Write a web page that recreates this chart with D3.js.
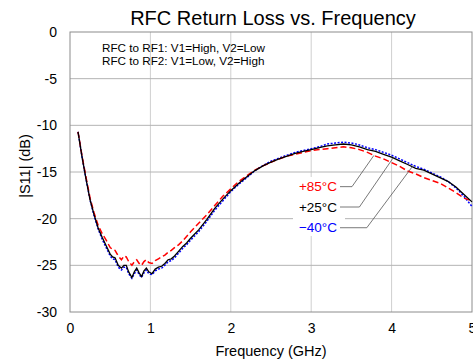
<!DOCTYPE html>
<meta charset="utf-8">
<script src="https://d3js.org/d3.v7.min.js"></script>
<style>
  body { margin: 0; background: #fff; }
  text { font-family: "Liberation Sans", Arial, sans-serif; }
</style>
<div id="my_dataviz"></div>
<script>
  // frequency points (GHz)
  var freq = [0.10, 0.15, 0.20, 0.25, 0.30, 0.35, 0.40, 0.45, 0.50, 0.53, 0.56, 0.60, 0.64, 0.67, 0.70, 0.73,
    0.77, 0.80, 0.83, 0.86, 0.89, 0.92, 0.95, 0.98, 1.02, 1.06, 1.10, 1.14, 1.18, 1.22, 1.26, 1.30, 1.35, 1.40,
    1.45, 1.50, 1.60, 1.70, 1.80, 1.90, 2.00, 2.10, 2.20, 2.30, 2.40, 2.50, 2.60, 2.70, 2.80, 2.90, 3.00, 3.10,
    3.20, 3.30, 3.40, 3.50, 3.60, 3.70, 3.80, 3.90, 4.00, 4.10, 4.20, 4.30, 4.40, 4.50, 4.60, 4.70, 4.80, 4.90, 5.00];

  // |S11| in dB for each temperature
  var s11_25 = [-10.7, -13.4, -15.8, -18.0, -19.6, -21.0, -22.0, -22.9, -23.8, -24.1, -24.2, -25.0, -25.3, -25.0, -25.0, -25.7,
    -26.3, -25.7, -25.3, -25.8, -26.2, -25.6, -25.3, -25.7, -25.9, -25.4, -25.2, -25.1, -24.8, -24.4, -24.3, -24.0, -23.5, -23.0,
    -22.6, -22.1, -21.2, -20.1, -18.9, -17.9, -17.0, -16.2, -15.5, -14.85, -14.35, -13.95, -13.6, -13.3, -13.0, -12.8, -12.6, -12.4,
    -12.2, -12.1, -12.0, -12.1, -12.3, -12.6, -12.8, -13.1, -13.4, -13.8, -14.2, -14.6, -14.8, -15.2, -15.6, -16.0, -16.6, -17.4, -18.2];

  var s11_85 = [-10.7, -13.3, -15.6, -17.8, -19.4, -20.7, -21.6, -22.3, -23.1, -23.3, -23.4, -24.0, -24.4, -24.0, -24.1, -24.6,
    -25.0, -24.6, -24.4, -24.8, -25.0, -24.6, -24.4, -24.7, -24.8, -24.5, -24.3, -24.1, -23.9, -23.6, -23.4, -23.1, -22.8, -22.4,
    -21.9, -21.4, -20.5, -19.6, -18.6, -17.6, -16.8, -16.0, -15.4, -14.8, -14.35, -13.95, -13.6, -13.3, -13.1, -12.9, -12.7, -12.6,
    -12.5, -12.4, -12.3, -12.4, -12.6, -12.9, -13.3, -13.6, -14.0, -14.4, -14.9, -15.2, -15.6, -15.9, -16.2, -16.7, -17.2, -17.8, -18.1];

  var s11_m40 = [-10.7, -13.4, -15.8, -18.0, -19.7, -21.1, -22.2, -23.1, -24.0, -24.3, -24.4, -25.2, -25.5, -25.2, -25.2, -25.9,
    -26.4, -25.9, -25.5, -26.0, -26.3, -25.8, -25.5, -25.9, -26.0, -25.6, -25.4, -25.3, -25.0, -24.6, -24.5, -24.2, -23.7, -23.2,
    -22.8, -22.3, -21.4, -20.3, -19.1, -18.1, -17.1, -16.3, -15.6, -14.85, -14.3, -13.85, -13.5, -13.2, -12.9, -12.7, -12.5, -12.3,
    -12.0, -11.9, -11.8, -11.9, -12.1, -12.4, -12.6, -12.9, -13.2, -13.6, -14.0, -14.4, -14.7, -15.1, -15.5, -16.0, -16.7, -17.6, -18.7];

  var xTicks = [0, 1, 2, 3, 4, 5];
  var yTicks = [0, -5, -10, -15, -20, -25, -30];
  var legendLines = ["RFC to RF1: V1=High, V2=Low", "RFC to RF2: V1=Low, V2=High"];
  var tempLabels = ["+85°C", "+25°C", "\u221240°C"];
  // where each leader line touches its curve (GHz)
  var tempAnchor = [3.78, 4.02, 4.27];
  // where each label sits (dB)
  var labelAt = [-16.57, -18.75, -20.97];

  var margin = { top: 32, right: 1, bottom: 51, left: 70 },
    width = 473 - margin.left - margin.right,
    height = 363 - margin.top - margin.bottom;

  var svg = d3.select("#my_dataviz")
    .append("svg")
    .attr("width", 473)
    .attr("height", 363);

  var g = svg.append("g")
    .attr("transform", "translate(" + margin.left + "," + margin.top + ")");

  var x = d3.scaleLinear().domain([0, 5]).range([0, width]);
  var y = d3.scaleLinear().domain([-30, 0]).range([height, 0]);

  // grid
  g.append("g").selectAll("line")
    .data(xTicks.slice(1, -1))
    .enter().append("line")
    .attr("x1", d => x(d)).attr("x2", d => x(d))
    .attr("y1", 0).attr("y2", height)
    .attr("stroke", "#cfcfcf").attr("stroke-width", 1);
  g.append("g").selectAll("line")
    .data(yTicks.slice(1, -1))
    .enter().append("line")
    .attr("x1", 0).attr("x2", width)
    .attr("y1", d => y(d)).attr("y2", d => y(d))
    .attr("stroke", "#b4b4b4").attr("stroke-width", 1);

  // frame
  g.append("rect")
    .attr("x", 0).attr("y", 0)
    .attr("width", width).attr("height", height)
    .attr("fill", "none").attr("stroke", "#8c8c8c").attr("stroke-width", 1);

  // axes (plain hyphen for negatives, like the original)
  var xAxis = g.append("g")
    .attr("transform", "translate(0," + height + ")")
    .call(d3.axisBottom(x).tickValues(xTicks).tickSize(0).tickPadding(11).tickFormat(d => String(d)));
  xAxis.select(".domain").remove();
  xAxis.selectAll("text").style("font-size", "14px").attr("fill", "#000");

  var yAxis = g.append("g")
    .call(d3.axisLeft(y).tickValues(yTicks).tickSize(0).tickPadding(13).tickFormat(d => String(d)));
  yAxis.select(".domain").remove();
  yAxis.selectAll("text").style("font-size", "14px").attr("fill", "#000");

  // titles
  svg.append("text")
    .attr("x", 273).attr("y", 25)
    .attr("text-anchor", "middle")
    .style("font-size", "20px")
    .text("RFC Return Loss vs. Frequency");

  svg.append("text")
    .attr("x", 271).attr("y", 356)
    .attr("text-anchor", "middle")
    .style("font-size", "14.5px")
    .text("Frequency (GHz)");

  svg.append("text")
    .attr("transform", "translate(30,166) rotate(-90)")
    .attr("text-anchor", "middle")
    .style("font-size", "14.5px")
    .text("|S11| (dB)");

  // legend note
  g.selectAll(".note")
    .data(legendLines)
    .enter().append("text")
    .attr("class", "note")
    .attr("x", 32).attr("y", (d, i) => 20 + i * 12.5)
    .style("font-size", "11.7px")
    .text(d => d);

  // curves
  var series = [
    { vals: s11_m40, color: "#0000ff", dash: "2,1.5", w: 1.5 },
    { vals: s11_85, color: "#ff0000", dash: "6,3", w: 1.5 },
    { vals: s11_25, color: "#000000", dash: null, w: 1.3 }
  ];
  var line = d3.line()
    .x(function (d) { return x(d[0]); })
    .y(function (d) { return y(d[1]); });

  series.forEach(function (s) {
    g.append("path")
      .datum(freq.map(function (f, i) { return [f, s.vals[i]]; }))
      .attr("fill", "none")
      .attr("stroke", s.color)
      .attr("stroke-width", s.w)
      .attr("stroke-dasharray", s.dash)
      .attr("d", line);
  });

  // temperature labels with leader lines
  var tempColors = ["#ff0000", "#000000", "#0000ff"];
  var tempSeries = [s11_85, s11_25, s11_m40];

  g.append("rect")
    .attr("x", 223).attr("y", 145)
    .attr("width", 52).attr("height", 59)
    .attr("fill", "#fff");

  tempLabels.forEach(function (t, i) {
    var yy = y(labelAt[i]);
    var elbow = 282 + i * 7.4;
    var ax = tempAnchor[i];
    // curve value at the anchor frequency
    var j = d3.bisectLeft(freq, ax);
    var f0 = freq[j - 1], f1 = freq[j];
    var v = tempSeries[i][j - 1] + (tempSeries[i][j] - tempSeries[i][j - 1]) * (ax - f0) / (f1 - f0);
    g.append("polyline")
      .attr("points", [[270, yy], [elbow, yy], [x(ax), y(v)]].map(p => p.join(",")).join(" "))
      .attr("fill", "none")
      .attr("stroke", "#555")
      .attr("stroke-width", 0.8);
    g.append("text")
      .attr("x", 267).attr("y", yy + 4.5)
      .attr("text-anchor", "end")
      .attr("fill", tempColors[i])
      .style("font-size", "13.5px")
      .text(t);
  });
</script>
